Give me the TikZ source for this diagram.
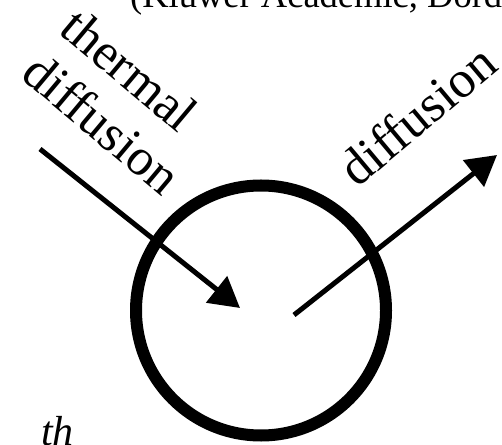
\documentclass[tikz,border=0pt]{standalone}
\usepackage{fontspec}
\setmainfont{Liberation Serif}
\usetikzlibrary{arrows.meta}
\begin{document}
\begin{tikzpicture}[x=1pt,y=1pt,
  lbl/.style={inner sep=0pt, anchor=base west, font=\fontsize{52}{60}\selectfont},
  captiontext/.style={inner sep=0pt, anchor=base west, font=\fontsize{36.5}{44}\selectfont},
  flow/.style={line width=5pt, -{Triangle[length=30pt,width=33pt]}},
  cellstyle/.style={circle, draw, line width=12pt, minimum size=250pt, inner sep=0pt}
]
\useasboundingbox (0,0) rectangle (502,444);
\clip (0,0) rectangle (502,444);
\node[cellstyle] (cell) at (261,133.5) {};
\coordinate (inS) at (40,295);
\coordinate (inE) at (240,136);
\coordinate (outS) at (294,129);
\coordinate (outE) at (497,289);
\draw[flow] (inS) -- (inE);
\draw[flow] (outS) -- (outE);
\node[lbl, rotate=-40] (t1) at (57,412) {thermal};
\node[lbl, rotate=-40] (t2) at (19,367) {diffusion};
\node[lbl, rotate=40] (t3) at (357,255) {diffusion};
\node[captiontext] (top) at (130,436) {(Kluwer Academic, Dordrecht)};
\node[captiontext, font=\fontsize{42}{48}\selectfont\itshape] (th) at (41,-1) {th};
\end{tikzpicture}
\end{document}
